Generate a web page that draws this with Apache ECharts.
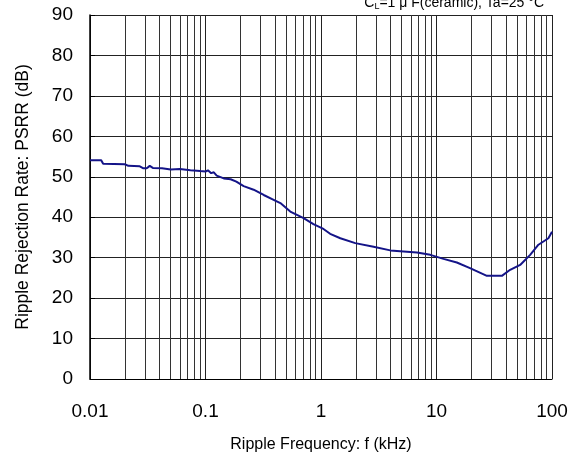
<!DOCTYPE html>
<html>
<head>
<meta charset="utf-8">
<script src="https://cdn.jsdelivr.net/npm/echarts@6/dist/echarts.min.js"></script>
<style>
  html, body { margin: 0; padding: 0; background: #fff; }
  #chart { width: 582px; height: 465px; }
</style>
</head>
<body>
<div id="chart"></div>
<script>
// 周波数 (kHz) と PSRR (dB)
var freq = [0.01, 0.0125, 0.013, 0.020, 0.0215, 0.027, 0.029, 0.031, 0.0329, 0.035, 0.042, 0.05, 0.06, 0.074, 0.09, 0.1, 0.105, 0.112, 0.118, 0.125, 0.144, 0.165, 0.185, 0.19, 0.214, 0.261, 0.319, 0.389, 0.45, 0.542, 0.707, 0.86, 1.05, 1.2, 1.47, 1.98, 2.85, 3.98, 6.77, 8.83, 11.5, 15, 19.5, 27.3, 36.8, 43.4, 53, 64.7, 76.3, 93.1, 100];
var psrr = [54.1, 54.1, 53.2, 53.1, 52.7, 52.6, 52.1, 52.1, 52.7, 52.2, 52.1, 51.8, 51.9, 51.6, 51.4, 51.3, 51.6, 50.9, 51.1, 50.3, 49.6, 49.4, 48.8, 49.1, 47.7, 46.8, 45.5, 44.3, 43.4, 41.4, 39.8, 38.3, 37.1, 35.9, 34.8, 33.6, 32.7, 31.8, 31.3, 30.7, 29.7, 28.8, 27.4, 25.5, 25.5, 27.0, 28.2, 30.7, 33.2, 34.8, 36.4];
var xTickValues = [0.01, 0.1, 1, 10, 100];
var xTickLabels = ['0.01', '0.1', '1', '10', '100'];

// 補助目盛線 (2〜9)
var minorLines = [];
for (var d = 0.01; d < 100; d *= 10) {
    for (var m = 2; m <= 9; m++) {
        minorLines.push({ xAxis: +(d * m).toPrecision(3) });
    }
}

var points = freq.map(function (f, i) { return [f, psrr[i]]; });
var font = 'Arial, "Liberation Sans", sans-serif';

var myChart = echarts.init(document.getElementById('chart'));
var option = {
    animation: false,
    grid: { left: 90, right: 30, top: 15, bottom: 86, show: false },
    xAxis: {
        type: 'log',
        logBase: 10,
        min: 0.01,
        max: 100,
        name: 'Ripple Frequency: f (kHz)',
        nameLocation: 'middle',
        nameGap: 58,
        nameTextStyle: { fontSize: 16, color: '#000', fontFamily: font },
        axisLine: { show: true, lineStyle: { color: '#000', width: 1 } },
        axisTick: { show: false },
        splitLine: { show: true, lineStyle: { color: '#222', width: 1 } },
        axisLabel: {
            fontSize: 19, color: '#000', fontFamily: font, margin: 23,
            formatter: function (v) {
                for (var i = 0; i < xTickValues.length; i++) {
                    if (Math.abs(v - xTickValues[i]) / xTickValues[i] < 1e-6) return xTickLabels[i];
                }
                return '';
            }
        }
    },
    yAxis: {
        type: 'value',
        min: 0,
        max: 90,
        interval: 10,
        name: 'Ripple Rejection Rate: PSRR (dB)',
        nameLocation: 'middle',
        nameGap: 58,
        nameTextStyle: { fontSize: 17.5, color: '#000', fontFamily: font },
        axisLine: { show: true, lineStyle: { color: '#000', width: 1.5 } },
        axisTick: { show: true, inside: true, length: 5, lineStyle: { color: '#000' } },
        splitLine: { show: true, lineStyle: { color: '#222', width: 1 } },
        axisLabel: { fontSize: 19, color: '#000', fontFamily: font, margin: 17 }
    },
    graphic: [{
        type: 'text',
        right: 38,
        top: -4,
        style: {
            text: 'C{s|L}=1 \u03bc F(ceramic), Ta=25 \u00b0C',
            font: '14px ' + font,
            fill: '#000',
            rich: { s: { fontSize: 9, verticalAlign: 'bottom', padding: [7, 0, 0, 0] } }
        }
    }],
    series: [{
        type: 'line',
        data: points,
        showSymbol: false,
        lineStyle: { color: '#141488', width: 2 },
        markLine: {
            silent: true,
            symbol: 'none',
            label: { show: false },
            lineStyle: { color: '#333', width: 1, type: 'solid' },
            data: minorLines
        },
        z: 5
    }]
};
myChart.setOption(option);
</script>
</body>
</html>
